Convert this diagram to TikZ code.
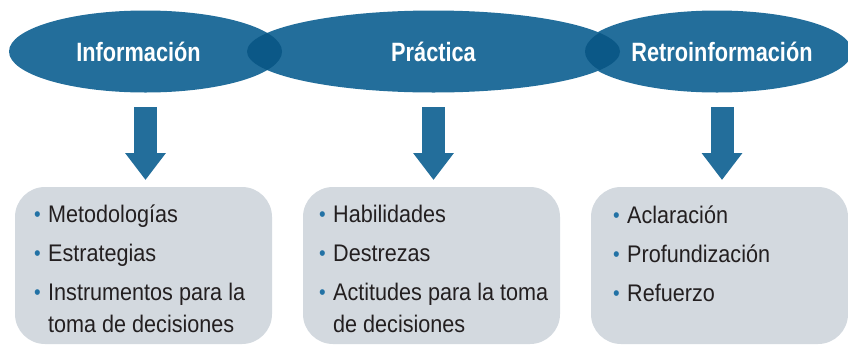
\documentclass[tikz,border=0pt]{standalone}
\usepackage{fontspec}
\setmainfont{Liberation Sans}[FakeStretch=0.9]
\newfontfamily\headfont{Liberation Sans}[FakeStretch=0.82]
\usetikzlibrary{shapes.geometric,arrows.meta}

\definecolor{ovalblue}{HTML}{236E9B}
\definecolor{ovaldark}{HTML}{0B5887}
\definecolor{boxgray}{HTML}{D3D9DF}
\definecolor{textdark}{HTML}{231F20}
\definecolor{dotblue}{HTML}{2272A5}

\newcommand{\dotitem}{\makebox[14pt][l]{\textcolor{dotblue}{\raisebox{0.5pt}{\fontsize{21}{21}\selectfont •}}}}
\newcommand{\contitem}{\hspace*{14pt}}

\begin{document}
\begin{tikzpicture}[x=1pt,y=-1pt,
  oval/.style={ellipse,fill=ovalblue,inner sep=0pt,outer sep=0pt,minimum height=82pt,
    text=white,font=\headfont\bfseries\fontsize{26.5}{30}\selectfont},
  panel/.style={fill=boxgray,rounded corners=30pt,inner sep=0pt,outer sep=0pt,
    minimum width=257pt,minimum height=157pt,anchor=north west},
  items/.style={anchor=base west,align=left,inner sep=0pt,text=textdark,
    font=\fontsize{24}{32}\selectfont},
  downarrow/.style={draw=ovalblue,line width=23pt,-{Triangle[width=39pt,length=27pt]}}]

  \useasboundingbox (0,0) rectangle (848,346);

  % the three ovals
  \node[oval,minimum width=273pt] (info) at (145.5,51.5) {\hspace*{-14pt}Información};
  \node[oval,minimum width=373pt] (prac) at (433.5,51.5) {Práctica};
  \node[oval,minimum width=264pt] (retro) at (717,51.5) {\hspace*{10pt}Retroinformación};

  % darker overlaps
  \begin{scope}
    \clip (info.center) ellipse [x radius=136.5, y radius=41];
    \fill[ovaldark] (prac.center) ellipse [x radius=186.5, y radius=41];
  \end{scope}
  \begin{scope}
    \clip (retro.center) ellipse [x radius=132, y radius=41];
    \fill[ovaldark] (prac.center) ellipse [x radius=186.5, y radius=41];
  \end{scope}

  % grey panels
  \node[panel] (box1) at (15,187) {};
  \node[panel] (box2) at (303,187) {};
  \node[panel] (box3) at (591,187) {};

  % arrows
  \coordinate (tip1) at (info.south |- box1.north);
  \coordinate (tip2) at (prac.south |- box2.north);
  \coordinate (tip3) at ([xshift=5pt]retro.south |- box3.north);
  \draw[downarrow] ([yshift=-14.5pt]info.south) -- ([yshift=7pt]tip1);
  \draw[downarrow] ([yshift=-14.5pt]prac.south) -- ([yshift=7pt]tip2);
  \draw[downarrow] ([xshift=5pt,yshift=-14.5pt]retro.south) -- ([yshift=7pt]tip3);

  % lists (base = last line)
  \node[items] (list1) at (34,332) {\dotitem Metodologías\\[7pt]
    \dotitem Estrategias\\[7pt]
    \dotitem Instrumentos para la\\
    \contitem toma de decisiones};
  \node[items] (list2) at (319,332) {\dotitem Habilidades\\[7pt]
    \dotitem Destrezas\\[7pt]
    \dotitem Actitudes para la toma\\
    \contitem de decisiones};
  \node[items] (list3) at (613,301) {\dotitem Aclaración\\[7pt]
    \dotitem Profundización\\[7pt]
    \dotitem Refuerzo};
\end{tikzpicture}
\end{document}
